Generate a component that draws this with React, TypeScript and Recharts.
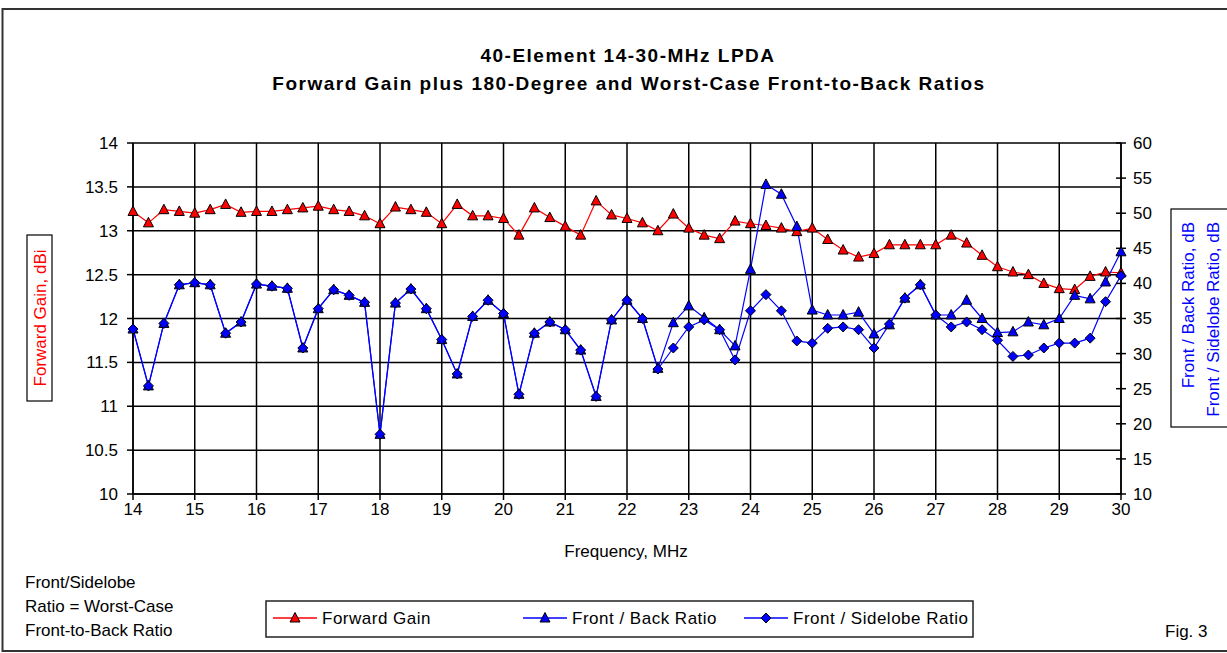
import React from 'react';
import { LineChart, Line, XAxis, YAxis, CartesianGrid } from 'recharts';

const FONT = '"Liberation Sans", Arial, Helvetica, sans-serif';

const frequencies = [
  14, 14.25, 14.5, 14.75, 15, 15.25, 15.5, 15.75, 16, 16.25, 16.5, 16.75,
  17, 17.25, 17.5, 17.75, 18, 18.25, 18.5, 18.75, 19, 19.25, 19.5, 19.75,
  20, 20.25, 20.5, 20.75, 21, 21.25, 21.5, 21.75, 22, 22.25, 22.5, 22.75,
  23, 23.25, 23.5, 23.75, 24, 24.25, 24.5, 24.75, 25, 25.25, 25.5, 25.75,
  26, 26.25, 26.5, 26.75, 27, 27.25, 27.5, 27.75, 28, 28.25, 28.5, 28.75,
  29, 29.25, 29.5, 29.75, 30,
];

const forwardGain = [
  13.22, 13.09, 13.24, 13.22, 13.2, 13.24, 13.3, 13.21, 13.22, 13.22, 13.24, 13.26,
  13.28, 13.24, 13.22, 13.17, 13.08, 13.27, 13.24, 13.21, 13.08, 13.3, 13.17, 13.17,
  13.14, 12.95, 13.26, 13.15, 13.05, 12.95, 13.34, 13.18, 13.14, 13.09, 13.0, 13.19,
  13.03, 12.95, 12.91, 13.11, 13.08, 13.06, 13.03, 12.99, 13.03, 12.9, 12.78, 12.7,
  12.74, 12.84, 12.84, 12.84, 12.84, 12.95, 12.86, 12.72, 12.59, 12.53, 12.5, 12.4,
  12.34, 12.33, 12.48, 12.53, 12.52,
];

const frontBack = [
  33.5, 25.4, 34.3, 39.8, 40.1, 39.8, 32.9, 34.5, 39.9, 39.6, 39.3, 30.8,
  36.4, 39.1, 38.3, 37.3, 18.5, 37.2, 39.2, 36.4, 32.0, 27.1, 35.3, 37.6,
  35.7, 24.2, 32.9, 34.5, 33.4, 30.5, 23.9, 34.8, 37.6, 35.0, 27.9, 34.4,
  36.8, 35.1, 33.4, 31.1, 42.0, 54.1, 52.7, 48.1, 36.2, 35.5, 35.5, 35.9,
  32.8, 34.1, 37.9, 39.8, 35.5, 35.5, 37.6, 35.0, 33.0, 33.1, 34.5, 34.1,
  35.0, 38.3, 37.8, 40.2, 44.5,
];

const frontSidelobe = [
  33.5, 25.4, 34.3, 39.8, 40.1, 39.8, 32.9, 34.5, 39.9, 39.6, 39.3, 30.8,
  36.4, 39.1, 38.3, 37.3, 18.5, 37.2, 39.2, 36.4, 32.0, 27.1, 35.3, 37.6,
  35.7, 24.2, 32.9, 34.5, 33.4, 30.5, 23.9, 34.8, 37.6, 35.0, 27.8, 30.8,
  33.8, 34.8, 33.4, 29.1, 36.1, 38.4, 36.1, 31.8, 31.5, 33.6, 33.8, 33.4,
  30.8, 34.2, 37.9, 39.8, 35.5, 33.8, 34.5, 33.4, 31.9, 29.6, 29.8, 30.8,
  31.5, 31.5, 32.2, 37.4, 41.1,
];

const freqTicks = [14, 15, 16, 17, 18, 19, 20, 21, 22, 23, 24, 25, 26, 27, 28, 29, 30];
const gainTicks = [10, 10.5, 11, 11.5, 12, 12.5, 13, 13.5, 14];
const ratioTicks = [10, 15, 20, 25, 30, 35, 40, 45, 50, 55, 60];

const titleLines = ['40-Element 14-30-MHz LPDA', 'Forward Gain plus 180-Degree and Worst-Case Front-to-Back Ratios'];
const noteLines = ['Front/Sidelobe', 'Ratio = Worst-Case', 'Front-to-Back Ratio'];
const seriesNames = ['Forward Gain', 'Front / Back Ratio', 'Front / Sidelobe Ratio'];

const data = frequencies.map((f, i) => ({
  freq: f,
  gain: forwardGain[i],
  fb: frontBack[i],
  fs: frontSidelobe[i],
}));

const Triangle = ({ cx, cy, fill }: any) => (
  <polygon
    points={`${cx},${cy - 5.5} ${cx + 5},${cy + 4} ${cx - 5},${cy + 4}`}
    fill={fill}
    stroke="#000"
    strokeWidth={1}
  />
);

const Diamond = ({ cx, cy, fill }: any) => (
  <polygon
    points={`${cx},${cy - 5} ${cx + 5},${cy} ${cx},${cy + 5} ${cx - 5},${cy}`}
    fill={fill}
    stroke="#000"
    strokeWidth={1}
  />
);

const RightTick = (props: any) => {
  const { x, y, payload } = props;
  return (
    <g>
      <line x1={x - 17} x2={x - 12} y1={y} y2={y} stroke="#000" strokeWidth={1.5} />
      <text x={x} y={y} dy="0.35em" textAnchor="start" fontSize={17} fontFamily={FONT} fill="#000">
        {payload.value}
      </text>
    </g>
  );
};

const LegendMarker = ({ kind, color, x, y }: any) => (
  <g>
    <line x1={x - 22} x2={x + 22} y1={y} y2={y} stroke={color} strokeWidth={1.5} />
    {kind === 'tri' ? <Triangle cx={x} cy={y} fill={color} /> : <Diamond cx={x} cy={y} fill={color} />}
  </g>
);

export default function App() {
  const textStyle = { fontFamily: FONT, fontSize: 17 };
  return (
    <div style={{ position: 'absolute', left: 0, top: 0, width: 1227, height: 653, overflow: 'hidden', background: '#fff' }}>
      <div style={{ position: 'absolute', left: 0, top: 0 }}>
        <LineChart width={1227} height={653} data={data} margin={{ top: 143, right: 0, bottom: 129, left: 0 }}>
          <CartesianGrid yAxisId="gain" stroke="#000" strokeWidth={1.5} horizontal vertical />
          <XAxis
            dataKey="freq"
            type="number"
            domain={[14, 30]}
            ticks={freqTicks}
            interval={0}
            height={30}
            tickSize={6}
            tickMargin={3}
            axisLine={{ stroke: '#000', strokeWidth: 1.5 }}
            tickLine={{ stroke: '#000', strokeWidth: 1.5 }}
            tick={{ fill: '#000', fontSize: 17, fontFamily: FONT }}
          />
          <YAxis
            yAxisId="gain"
            orientation="left"
            domain={[10, 14]}
            ticks={gainTicks}
            interval={0}
            width={133}
            tickSize={6}
            tickMargin={9}
            axisLine={{ stroke: '#000', strokeWidth: 1.5 }}
            tickLine={{ stroke: '#000', strokeWidth: 1.5 }}
            tick={{ fill: '#000', fontSize: 17, fontFamily: FONT }}
          />
          <YAxis
            yAxisId="ratio"
            orientation="right"
            domain={[10, 60]}
            ticks={ratioTicks}
            interval={0}
            width={106}
            tickSize={5}
            tickMargin={7}
            axisLine={{ stroke: '#000', strokeWidth: 1.5 }}
            tickLine={{ stroke: '#000', strokeWidth: 1.5 }}
            tick={<RightTick />}
          />
          <Line
            yAxisId="gain"
            dataKey="gain"
            type="linear"
            stroke="#ff0000"
            strokeWidth={1.2}
            isAnimationActive={false}
            activeDot={false}
            dot={(p: any) => <Triangle key={`g${p.index}`} cx={p.cx} cy={p.cy} fill="#ff0000" />}
          />
          <Line
            yAxisId="ratio"
            dataKey="fb"
            type="linear"
            stroke="#0000ff"
            strokeWidth={1.2}
            isAnimationActive={false}
            activeDot={false}
            dot={(p: any) => <Triangle key={`b${p.index}`} cx={p.cx} cy={p.cy} fill="#0000ff" />}
          />
          <Line
            yAxisId="ratio"
            dataKey="fs"
            type="linear"
            stroke="#0000ff"
            strokeWidth={1.2}
            isAnimationActive={false}
            activeDot={false}
            dot={(p: any) => <Diamond key={`s${p.index}`} cx={p.cx} cy={p.cy} fill="#0000ff" />}
          />
        </LineChart>
      </div>
      <svg
        width={1227}
        height={653}
        style={{ position: 'absolute', left: 0, top: 0, pointerEvents: 'none' }}
      >
        <rect x={2.5} y={9} width={1300} height={642} fill="none" stroke="#333" strokeWidth={2} />
        <text x={628} y={55} textAnchor="middle" dominantBaseline="central" fontFamily={FONT} fontSize={19} fontWeight="bold" letterSpacing={1.5} fill="#000">
          {titleLines[0]}
        </text>
        <text x={629} y={83} textAnchor="middle" dominantBaseline="central" fontFamily={FONT} fontSize={19} fontWeight="bold" letterSpacing={1.5} fill="#000">
          {titleLines[1]}
        </text>

        <rect x={27} y={235} width={25} height={166} fill="#fff" stroke="#000" strokeWidth={1.2} />
        <text transform="translate(40,318) rotate(-90)" textAnchor="middle" dominantBaseline="central" {...textStyle} fill="#ff0000">
          Forward Gain,  dBi
        </text>

        <rect x={1171} y={209} width={100} height={218} fill="#fff" stroke="#000" strokeWidth={1.2} />
        <text transform="translate(1188,222) rotate(-90)" textAnchor="end" dominantBaseline="central" {...textStyle} fill="#0000ff">
          Front / Back Ratio,  dB
        </text>
        <text transform="translate(1213,222) rotate(-90)" textAnchor="end" dominantBaseline="central" {...textStyle} fill="#0000ff">
          Front / Sidelobe Ratio,  dB
        </text>

        <text x={626} y={551} textAnchor="middle" dominantBaseline="central" {...textStyle} fill="#000">
          Frequency, MHz
        </text>

        {noteLines.map((t, i) => (
          <text key={t} x={25} y={582 + i * 24} dominantBaseline="central" {...textStyle} fill="#000">
            {t}
          </text>
        ))}

        <text x={1165} y={631} dominantBaseline="central" {...textStyle} fill="#000">
          Fig. 3
        </text>

        <rect x={266} y={601} width={707} height={36} fill="#fff" stroke="#222" strokeWidth={1.5} />
        <LegendMarker kind="tri" color="#ff0000" x={295} y={618} />
        <text x={322} y={618} dominantBaseline="central" {...textStyle} letterSpacing={0.5} fill="#000">{seriesNames[0]}</text>
        <LegendMarker kind="tri" color="#0000ff" x={545} y={618} />
        <text x={572} y={618} dominantBaseline="central" {...textStyle} letterSpacing={0.5} fill="#000">{seriesNames[1]}</text>
        <LegendMarker kind="dia" color="#0000ff" x={766} y={618} />
        <text x={793} y={618} dominantBaseline="central" {...textStyle} letterSpacing={0.5} fill="#000">{seriesNames[2]}</text>
      </svg>
    </div>
  );
}
